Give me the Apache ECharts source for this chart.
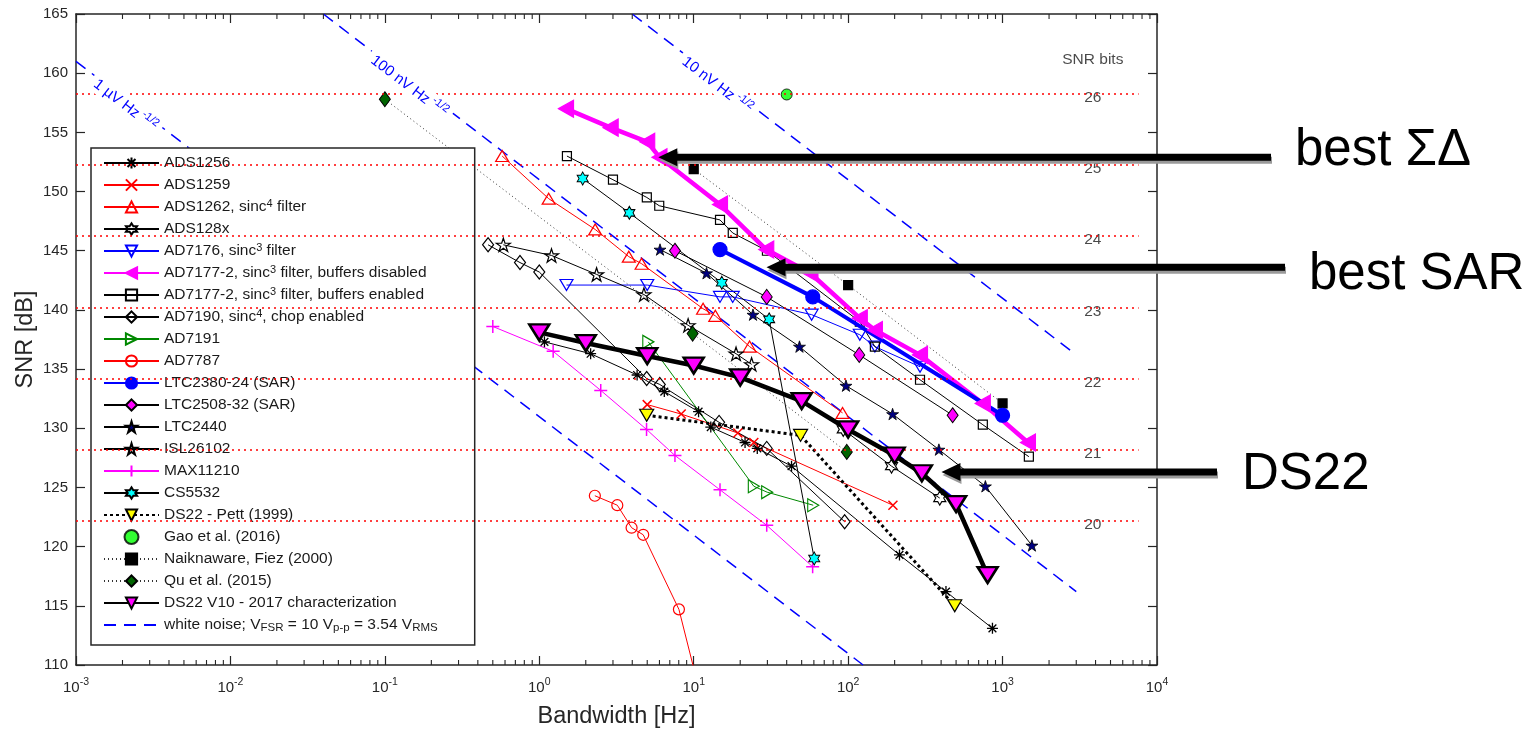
<!DOCTYPE html>
<html>
<head>
<meta charset="utf-8">
<script src="https://cdn.jsdelivr.net/npm/echarts@6/dist/echarts.min.js"></script>
<style>
  html, body { margin: 0; padding: 0; background: #fff; }
  #main { width: 1540px; height: 732px; }
</style>
</head>
<body>
<div id="main"></div>
<script>
// ---- data: bandwidth [Hz] and SNR [dB] per converter ----
var ads1256BW   = [1.08, 2.15, 4.3, 6.45, 10.75, 12.9, 21.5, 25.8, 43, 215, 430, 860];
var ads1256SNR  = [137.3, 136.3, 134.5, 133.1, 131.4, 130.1, 128.8, 128.3, 126.8, 119.3, 116.2, 113.1];
var ads1259BW   = [5.0, 8.3, 19.3, 24.5, 195];
var ads1259SNR  = [132.0, 131.2, 129.6, 128.8, 123.5];
var ads1262BW   = [0.575, 1.15, 2.3, 3.8, 4.6, 11.5, 13.8, 23, 92];
var ads1262SNR  = [153.0, 149.4, 146.8, 144.5, 143.9, 140.1, 139.5, 136.9, 131.3];
var ads128xBW   = [93, 191, 392];
var ads128xSNR  = [129.9, 126.8, 124.1];
var ad7176BW    = [1.5, 5, 14.8, 17.9, 58, 119, 149, 292];
var ad7176SNR   = [142.1, 142.1, 141.1, 141.1, 139.6, 137.9, 136.9, 135.2];
var ad7177dBW   = [1.49, 2.9, 5.0, 6.0, 14.8, 29.5, 57, 119, 149, 292, 745, 1460];
var ad7177dSNR  = [157.0, 155.4, 154.2, 152.9, 148.9, 145.1, 143.1, 139.3, 138.3, 136.2, 132.1, 128.8];
var ad7177eBW   = [1.51, 3.0, 4.97, 5.98, 14.8, 17.9, 29.8, 119, 149, 292, 745, 1480];
var ad7177eSNR  = [153.0, 151.0, 149.5, 148.8, 147.6, 146.5, 145.0, 139.0, 136.9, 134.1, 130.3, 127.6];
var ad7190BW    = [0.466, 0.75, 1.0, 4.96, 6.03, 14.6, 29.7, 94.9];
var ad7190SNR   = [145.5, 144.0, 143.2, 134.2, 133.7, 130.5, 128.3, 122.1];
var ad7191BW    = [5.08, 24.5, 29.9, 59.4];
var ad7191SNR   = [137.3, 125.1, 124.6, 123.5];
var ad7787BW    = [2.29, 3.2, 3.96, 4.71, 8.02, 11.8];
var ad7787SNR   = [124.3, 123.5, 121.6, 121.0, 114.7, 106.0];
var ltc2380BW   = [14.8, 59, 1000];
var ltc2380SNR  = [145.1, 141.1, 131.1];
var ltc2508BW   = [7.56, 29.7, 118, 475];
var ltc2508SNR  = [145.0, 141.1, 136.2, 131.1];
var ltc2440BW   = [6.05, 12.1, 24.2, 48.4, 96.8, 194, 387, 774, 1549];
var ltc2440SNR  = [145.1, 143.1, 139.6, 136.9, 133.6, 131.2, 128.2, 125.1, 120.1];
var isl26102BW  = [0.585, 1.2, 2.35, 4.76, 9.2, 18.8, 23.7];
var isl26102SNR = [145.5, 144.6, 143.0, 141.3, 138.7, 136.3, 135.4];
var max11210BW  = [0.5, 1.23, 2.5, 4.95, 7.56, 14.8, 29.7, 58.9];
var max11210SNR = [138.6, 136.5, 133.2, 129.9, 127.7, 124.8, 121.8, 118.3];
var cs5532BW    = [1.91, 3.83, 15.2, 30.8, 60.3];
var cs5532SNR   = [151.1, 148.2, 142.3, 139.2, 119.0];
var pettBW      = [4.96, 49.2, 490];
var pettSNR     = [131.1, 129.4, 115.0];
var gaoBW       = [40];
var gaoSNR      = [158.2];
var naikBW      = [10, 100, 1000];
var naikSNR     = [151.9, 142.1, 132.1];
var quBW        = [0.1, 9.84, 98];
var quSNR       = [157.8, 138.0, 128.0];
var ds22BW      = [1, 2, 5, 10, 20, 50, 100, 200, 300, 500, 800];
var ds22SNR     = [138.1, 137.2, 136.1, 135.3, 134.3, 132.3, 129.9, 127.7, 126.2, 123.6, 117.6];

// white-noise reference lines (end points) and their labels
var noise1uBW = [0.001, 125];     var noise1uSNR = [161.0, 110.0];
var noise100nBW = [0.04, 3000];   var noise100nSNR = [165.0, 116.2];
var noise10nBW = [4, 3000];       var noise10nSNR = [165.0, 136.2];
var noiseLabelText = ['1 \u00b5V Hz', '100 nV Hz', '10 nV Hz'];
var noiseLabelBW = [0.00218, 0.15, 14.8];
var noiseLabelSNR = [157.6, 159.2, 159.3];

// SNR bit levels
var bitNumbers = [20, 21, 22, 23, 24, 25, 26];
var bitSNR = [122.16, 128.18, 134.2, 140.22, 146.24, 152.26, 158.28];

// axis ticks
var xTickExponents = [-3, -2, -1, 0, 1, 2, 3, 4];
var minorMultipliers = [2, 3, 4, 5, 6, 7, 8, 9];

// annotation arrows
var arrowLabels = ['best \u03a3\u0394', 'best SAR', 'DS22'];
var arrowTipBW = [5.9, 29.6, 402];
var arrowTipSNR = [152.9, 143.6, 126.3];

var FONT = '"Liberation Sans", Arial, Helvetica, sans-serif';
var AXIS = '#262626';
var NONE = 'rgba(0,0,0,0)';

var P_AST = 'path://M0,-10L0,10M-10,0L10,0M-7.07,-7.07L7.07,7.07M-7.07,7.07L7.07,-7.07';
var P_X = 'path://M-10,-10L10,10M-10,10L10,-10';
var P_PLUS = 'path://M0,-10L0,10M-10,0L10,0';
var P_HEX = 'path://M0,-10L2.89,-5L8.66,-5L5.77,0L8.66,5L2.89,5L0,10L-2.89,5L-8.66,5L-5.77,0L-8.66,-5L-2.89,-5Z';
var P_PENT = 'path://M0,-10L2.25,-3.09L9.51,-3.09L3.63,1.18L5.88,8.09L0,3.82L-5.88,8.09L-3.63,1.18L-9.51,-3.09L-2.25,-3.09Z';

function pts(bw, snr) {
    return bw.map(function (b, i) { return [b, snr[i]]; });
}

function mk(name, bw, snr, o) {
    return {
        name: name,
        type: o.scatter ? 'scatter' : 'line',
        data: pts(bw, snr),
        symbol: o.symbol,
        symbolSize: o.size,
        symbolRotate: o.rot || 0,
        showSymbol: true,
        lineStyle: { color: o.line || '#000', width: o.lw || 1, type: o.lt || 'solid' },
        itemStyle: { color: o.fill, borderColor: o.edge, borderWidth: o.ew === undefined ? 1.2 : o.ew },
        z: o.z || 3,
        silent: true,
        clip: true,
        emphasis: { disabled: true }
    };
}

var dataSeries = [
    mk('ADS1256', ads1256BW, ads1256SNR, { symbol: P_AST, size: 11, fill: '#000', edge: '#000', ew: 1.3 }),
    mk('ADS1259', ads1259BW, ads1259SNR, { symbol: P_X, size: 9, fill: '#f00', edge: '#f00', ew: 1.5, line: '#f00' }),
    mk('ADS1262', ads1262BW, ads1262SNR, { symbol: 'triangle', size: [13, 11], fill: NONE, edge: '#f00', line: '#f00' }),
    mk('ADS128x', ads128xBW, ads128xSNR, { symbol: P_HEX, size: [12, 14], fill: NONE, edge: '#000' }),
    mk('AD7176', ad7176BW, ad7176SNR, { symbol: 'triangle', rot: 180, size: [13, 11], fill: NONE, edge: '#00f', line: '#00f' }),
    mk('AD7177-2 dis', ad7177dBW, ad7177dSNR, { symbol: 'triangle', rot: 90, size: [17, 15], fill: '#f0f', edge: '#f0f', line: '#f0f', lw: 4.5, z: 4 }),
    mk('AD7177-2 en', ad7177eBW, ad7177eSNR, { symbol: 'rect', size: 9, fill: NONE, edge: '#000' }),
    mk('AD7190', ad7190BW, ad7190SNR, { symbol: 'diamond', size: [11, 14], fill: NONE, edge: '#000' }),
    mk('AD7191', ad7191BW, ad7191SNR, { symbol: 'triangle', rot: -90, size: [13, 11], fill: NONE, edge: '#080', line: '#080' }),
    mk('AD7787', ad7787BW, ad7787SNR, { symbol: 'circle', size: 11, fill: NONE, edge: '#f00', line: '#f00' }),
    mk('LTC2380-24', ltc2380BW, ltc2380SNR, { symbol: 'circle', size: 14, fill: '#00f', edge: '#00f', line: '#00f', lw: 4, z: 4 }),
    mk('LTC2508-32', ltc2508BW, ltc2508SNR, { symbol: 'diamond', size: [11, 15], fill: '#f0f', edge: '#000', ew: 1 }),
    mk('LTC2440', ltc2440BW, ltc2440SNR, { symbol: P_PENT, size: [12, 11.5], fill: '#000080', edge: '#000', ew: 0.8 }),
    mk('ISL26102', isl26102BW, isl26102SNR, { symbol: P_PENT, size: [14, 13.3], fill: NONE, edge: '#000' }),
    mk('MAX11210', max11210BW, max11210SNR, { symbol: P_PLUS, size: 13, fill: '#f0f', edge: '#f0f', ew: 1.5, line: '#f0f' }),
    mk('CS5532', cs5532BW, cs5532SNR, { symbol: P_HEX, size: [11, 13], fill: '#0ff', edge: '#000', ew: 1 }),
    mk('DS22 - Pett (1999)', pettBW, pettSNR, { symbol: 'triangle', rot: 180, size: [14, 12], fill: '#ff0', edge: '#000', lw: 3, lt: [3, 3] }),
    mk('Gao et al. (2016)', gaoBW, gaoSNR, { scatter: true, symbol: 'circle', size: 11, fill: '#0f0', edge: '#000', ew: 1 }),
    mk('Naiknaware, Fiez (2000)', naikBW, naikSNR, { symbol: 'rect', size: 9, fill: '#000', edge: '#000', line: '#333', lt: [1, 3] }),
    mk('Qu et al. (2015)', quBW, quSNR, { symbol: 'diamond', size: [11, 15], fill: '#006400', edge: '#000', ew: 1, line: '#333', lt: [1, 3] }),
    mk('DS22 V10', ds22BW, ds22SNR, { symbol: 'triangle', rot: 180, size: [20, 16], fill: '#f0f', edge: '#000', ew: 2.5, lw: 4.5, z: 5 })
];

var noiseLines = [pts(noise1uBW, noise1uSNR), pts(noise100nBW, noise100nSNR), pts(noise10nBW, noise10nSNR)];
var noiseSeries = noiseLines.map(function (d) {
    return {
        name: 'white noise', type: 'line', data: d, symbol: 'none', silent: true, z: 2,
        lineStyle: { color: '#00f', width: 1.5, type: [12, 8] },
        itemStyle: { color: '#00f' },
        emphasis: { disabled: true }
    };
});

var legendText = {
    'ADS1262': 'ADS1262, sinc{sup|4} filter',
    'AD7176': 'AD7176, sinc{sup|3} filter',
    'AD7177-2 dis': 'AD7177-2, sinc{sup|3} filter, buffers disabled',
    'AD7177-2 en': 'AD7177-2, sinc{sup|3} filter, buffers enabled',
    'AD7190': 'AD7190, sinc{sup|4}, chop enabled',
    'LTC2380-24': 'LTC2380-24 (SAR)',
    'LTC2508-32': 'LTC2508-32 (SAR)',
    'DS22 V10': 'DS22 V10 - 2017 characterization',
    'white noise': 'white noise; V{sub|FSR} = 10 V{sub|p-p} = 3.54 V{sub|RMS}'
};

var minorTicks = [];
xTickExponents.slice(0, -1).forEach(function (e) {
    minorMultipliers.forEach(function (m) { minorTicks.push([m * Math.pow(10, e), 110]); });
});

var bitLabelBW = 3840;
var bitLineEndBW = 7600;

var chart = echarts.init(document.getElementById('main'));

function xAxisCfg(pos) {
    return {
        type: 'log', logBase: 10, min: 0.001, max: 10000, position: pos, splitNumber: 7,
        axisLine: { show: true, onZero: false, lineStyle: { color: AXIS, width: 1.5 } },
        axisTick: { show: true, inside: true, length: 9, lineStyle: { color: AXIS, width: 1.2 } },
        splitLine: { show: false },
        minorTick: { show: false },
        axisLabel: pos === 'top' ? { show: false } : {
            margin: 12,
            color: AXIS,
            fontFamily: FONT,
            fontSize: 15,
            lineHeight: 22,
            formatter: function (v) {
                return '10{sup|' + Math.round(Math.log10(v)) + '}';
            },
            rich: { sup: { fontSize: 10.5, lineHeight: 10, verticalAlign: 'top', fontFamily: FONT, color: AXIS } }
        }
    };
}

function yAxisCfg(pos) {
    return {
        type: 'value', min: 110, max: 165, interval: 5, position: pos,
        axisLine: { show: true, onZero: false, lineStyle: { color: AXIS, width: 1.5 } },
        axisTick: { show: true, inside: true, length: 9, lineStyle: { color: AXIS, width: 1.2 } },
        splitLine: { show: false },
        axisLabel: pos === 'right' ? { show: false } : { margin: 8, color: AXIS, fontFamily: FONT, fontSize: 15 }
    };
}

var xa = xAxisCfg('bottom');
xa.name = 'Bandwidth [Hz]';
xa.nameLocation = 'middle';
xa.nameGap = 40;
xa.nameMoveOverlap = false;
xa.nameTextStyle = { fontSize: 23.5, color: AXIS, fontFamily: FONT };
var ya = yAxisCfg('left');
ya.name = 'SNR [dB]';
ya.nameLocation = 'middle';
ya.nameGap = 38;
ya.nameMoveOverlap = false;
ya.nameTextStyle = { fontSize: 23.5, color: AXIS, fontFamily: FONT };

var bitSeries = {
    name: 'bits', type: 'scatter', silent: true, z: 1,
    symbolSize: 1,
    itemStyle: { color: NONE },
    data: bitSNR.map(function (v, i) {
        return { value: [bitLabelBW, v], label: { formatter: String(bitNumbers[i]) } };
    }).concat([{ value: [bitLabelBW, 161.1], label: { formatter: 'SNR bits', backgroundColor: NONE, offset: [0, 0] } }]),
    label: {
        show: true, position: 'inside', offset: [0, 4], color: '#1a1a1a',
        fontSize: 15.5, fontFamily: FONT, backgroundColor: '#fff', padding: [0, 2]
    },
    markLine: {
        silent: true, symbol: ['none', 'none'], animation: false,
        label: { show: false },
        lineStyle: { color: '#f00', type: [2, 4], width: 1.5 },
        emphasis: { disabled: true },
        data: bitSNR.map(function (v) { return [{ coord: [0.001, v] }, { coord: [bitLineEndBW, v] }]; })
    }
};

var minorTickSeries = {
    name: 'minor', type: 'custom', silent: true, clip: false, z: 6,
    data: minorTicks,
    encode: { x: 0, y: 1 },
    renderItem: function (params, api) {
        var x = api.coord([api.value(0), 110])[0];
        var cs = params.coordSys;
        var yb = cs.y + cs.height, yt = cs.y;
        var st = { stroke: AXIS, lineWidth: 1.1 };
        return {
            type: 'group', children: [
                { type: 'line', shape: { x1: x, y1: yb, x2: x, y2: yb - 5 }, style: st },
                { type: 'line', shape: { x1: x, y1: yt, x2: x, y2: yt + 5 }, style: st }
            ]
        };
    }
};

var legendNames = dataSeries.map(function (s) { return s.name; }).concat(['white noise']);

chart.setOption({
    animation: false,
    backgroundColor: '#fff',
    textStyle: { fontFamily: FONT },
    grid: { left: 76, right: 383, top: 14, bottom: 67, outerBoundsMode: 'none', containLabel: false },
    xAxis: [xa, xAxisCfg('top')],
    yAxis: [ya, yAxisCfg('right')],
    legend: {
        orient: 'vertical', left: 91, top: 148,
        itemWidth: 55, itemHeight: 14, itemGap: 4,
        padding: [6, 37, 11, 12],
        backgroundColor: '#fff', borderColor: AXIS, borderWidth: 1.5,
        selectedMode: false,
        data: legendNames.map(function (n) {
            return n === 'white noise' ? { name: n, itemStyle: { opacity: 0 } } : n;
        }),
        formatter: function (n) { return legendText[n] || n; },
        textStyle: {
            fontSize: 15.5, color: '#1a1a1a', fontFamily: FONT, lineHeight: 18,
            rich: {
                sup: { fontSize: 11, lineHeight: 9, verticalAlign: 'top', fontFamily: FONT, color: '#1a1a1a' },
                sub: { fontSize: 11.5, lineHeight: 5, verticalAlign: 'bottom', fontFamily: FONT, color: '#1a1a1a' }
            }
        }
    },
    series: [bitSeries].concat(noiseSeries, dataSeries, [minorTickSeries])
});

// ---- overlays placed through the axes: noise labels and arrows ----
function px(bw, snr) {
    return chart.convertToPixel({ xAxisIndex: 0, yAxisIndex: 0 }, [bw, snr]);
}

var measureCtx = document.createElement('canvas').getContext('2d');
function textWidth(t, size) {
    measureCtx.font = size + 'px ' + FONT;
    return measureCtx.measureText(t).width;
}

var els = [];
noiseLabelText.forEach(function (t, i) {
    var line = noiseLines[i];
    var p0 = px(line[0][0], line[0][1]);
    var p1 = px(line[1][0], line[1][1]);
    var ang = Math.atan2(p1[1] - p0[1], p1[0] - p0[0]);
    var p = px(noiseLabelBW[i], noiseLabelSNR[i]);
    var sup = '-1/2';
    var wm = textWidth(t, 15), ws = textWidth(sup, 11);
    var total = wm + 3 + ws;
    els.push({
        type: 'group', z: 10,
        x: p[0] - Math.sin(ang) * 5, y: p[1] + Math.cos(ang) * 5,
        rotation: -ang,
        children: [
            { type: 'rect', z: 10, shape: { x: -total / 2 - 5, y: -11, width: total + 10, height: 20 }, style: { fill: '#fff' } },
            { type: 'text', z: 11, x: -total / 2, y: 0,
              style: { text: t, fill: '#00f', fontSize: 15, fontFamily: FONT, align: 'left', verticalAlign: 'middle' } },
            { type: 'text', z: 11, x: total / 2 - ws, y: -5,
              style: { text: sup, fill: '#00f', fontSize: 11, fontFamily: FONT, align: 'left', verticalAlign: 'middle' } }
        ]
    });
});

var arrowLayout = [
    { tail: 1271, textX: 1295, textY: 151 },
    { tail: 1285, textX: 1309, textY: 275 },
    { tail: 1217, textX: 1242, textY: 475 }
];
arrowLabels.forEach(function (t, i) {
    var tip = px(arrowTipBW[i], arrowTipSNR[i]);
    var L = arrowLayout[i];
    var x0 = tip[0], y0 = tip[1], hl = 19, hw = 9, sw = 3.5;
    var poly = [[x0, y0], [x0 + hl, y0 - hw], [x0 + hl, y0 - sw], [L.tail, y0 - sw],
                [L.tail, y0 + sw], [x0 + hl, y0 + sw], [x0 + hl, y0 + hw]];
    els.push({ type: 'polygon', z: 50, shape: { points: poly.map(function (q) { return [q[0] + 1, q[1] + 3]; }) }, style: { fill: '#9a9a9a' } });
    els.push({ type: 'polygon', z: 51, shape: { points: poly }, style: { fill: '#000' } });
    els.push({
        type: 'text', z: 52, x: L.textX, y: L.textY,
        style: { text: t, fill: '#000', fontSize: 51, fontFamily: FONT, verticalAlign: 'middle' }
    });
});

chart.setOption({ graphic: els });
</script>
</body>
</html>
